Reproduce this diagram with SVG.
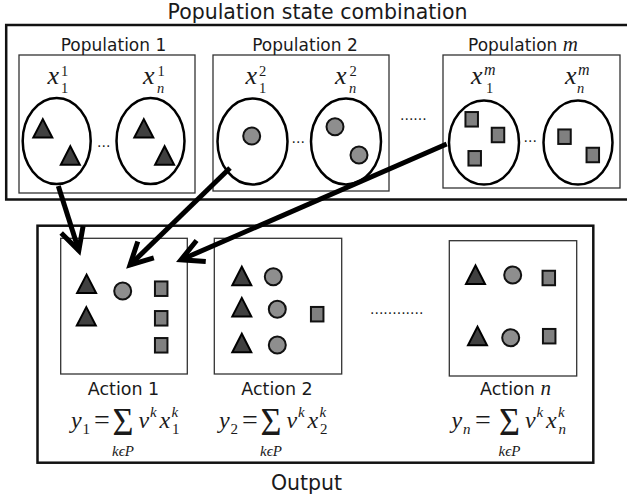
<svg xmlns="http://www.w3.org/2000/svg" xmlns:xlink="http://www.w3.org/1999/xlink" width="627" height="499" viewBox="0 0 627 499">
<style>
.lbl{font-family:"DejaVu Sans","Noto Sans",sans-serif;fill:#1a1a1a}
.m{font-family:"Liberation Serif","DejaVu Serif",serif;font-style:italic;fill:#1a1a1a}
.mu{font-family:"Liberation Serif","DejaVu Serif",serif;fill:#1a1a1a}
.dots{font-family:"DejaVu Sans",sans-serif;font-size:14px;fill:#1a1a1a}
.outer{fill:none;stroke:#111;stroke-width:2.5}
.pop{fill:none;stroke:#333;stroke-width:1.3}
.ell{fill:#fff;stroke:#000;stroke-width:2.5}
.tri{fill:#404040;stroke:#000;stroke-width:2}
.cir{fill:#8e8e8e;stroke:#111;stroke-width:2}
.sq{fill:#808080;stroke:#111;stroke-width:2}
.arrow{fill:none;stroke:#000;stroke-width:5;marker-end:url(#head)}
</style>
<defs>
<marker id="head" markerUnits="userSpaceOnUse" orient="auto" refX="0" refY="0" markerWidth="40" markerHeight="40" viewBox="-30 -20 40 40" overflow="visible">
<path d="M-22,-11.5 L0,0 L-22,11.5" fill="none" stroke="#000" stroke-width="5" stroke-linejoin="miter"/>
</marker>
<polygon id="t" class="tri" points="0,-9.5 -9.5,9 9.5,9"/>
<circle id="c" class="cir" r="8.5"/>
<rect id="s" class="sq" x="-6.25" y="-7.25" width="12.5" height="14.5"/>
</defs>

<g id="population-state-combination">
<rect class="outer" x="6.2" y="25" width="640" height="174.5"/>
<text class="lbl" x="317.5" y="18.5" font-size="20.5" text-anchor="middle">Population state combination</text>
</g>

<g id="population-1">
<rect class="pop" x="19" y="55" width="176" height="138"/>
<text class="lbl" x="113.5" y="50.5" font-size="17" text-anchor="middle">Population 1</text>
<text class="m" x="47.5" y="84" font-size="26">x</text>
<text class="mu" x="61" y="76" font-size="14.5">1</text>
<text class="mu" x="61" y="92.5" font-size="14.5">1</text>
<text class="m" x="143" y="84" font-size="26">x</text>
<text class="mu" x="157.5" y="76" font-size="14.5">1</text>
<text class="m" x="157" y="92.5" font-size="14.5">n</text>
<ellipse class="ell" cx="56.7" cy="141" rx="34" ry="43"/>
<ellipse class="ell" cx="150.5" cy="141" rx="34" ry="43"/>
<use xlink:href="#t" x="42.8" y="128.6"/>
<use xlink:href="#t" x="70.3" y="155.7"/>
<use xlink:href="#t" x="143.8" y="128.6"/>
<use xlink:href="#t" x="164.6" y="155.7"/>
<text class="dots" x="97" y="147">...</text>
</g>

<g id="population-2">
<rect class="pop" x="213" y="55" width="176" height="136"/>
<text class="lbl" x="305" y="50.5" font-size="17" text-anchor="middle">Population 2</text>
<text class="m" x="245.5" y="84" font-size="26">x</text>
<text class="mu" x="259" y="76" font-size="14.5">2</text>
<text class="mu" x="259" y="92.5" font-size="14.5">1</text>
<text class="m" x="335" y="84" font-size="26">x</text>
<text class="mu" x="349.5" y="76" font-size="14.5">2</text>
<text class="m" x="349" y="92.5" font-size="14.5">n</text>
<ellipse class="ell" cx="252.5" cy="141.5" rx="35" ry="43"/>
<ellipse class="ell" cx="346" cy="141.5" rx="35" ry="43"/>
<use xlink:href="#c" x="251.7" y="136"/>
<use xlink:href="#c" x="335" y="126.7"/>
<use xlink:href="#c" x="359" y="155"/>
<text class="dots" x="291.5" y="143">...</text>
</g>

<text class="dots" x="400" y="120">......</text>

<g id="population-m">
<rect class="pop" x="443" y="55" width="177" height="133"/>
<text class="lbl" x="468" y="50.5" font-size="17">Population <tspan class="m" font-size="21">m</tspan></text>
<text class="m" x="471" y="84" font-size="26">x</text>
<text class="m" x="484" y="75" font-size="16">m</text>
<text class="mu" x="486" y="92.5" font-size="14.5">1</text>
<text class="m" x="565" y="84" font-size="26">x</text>
<text class="m" x="578" y="75" font-size="16">m</text>
<text class="m" x="577" y="92.5" font-size="14.5">n</text>
<ellipse class="ell" cx="484" cy="142.5" rx="35" ry="42"/>
<ellipse class="ell" cx="578" cy="142.5" rx="34.5" ry="42"/>
<use xlink:href="#s" x="471.7" y="119.3"/>
<use xlink:href="#s" x="498" y="135"/>
<use xlink:href="#s" x="474.7" y="158.3"/>
<use xlink:href="#s" x="564.5" y="136.7"/>
<use xlink:href="#s" x="592.8" y="155"/>
<text class="dots" x="523.5" y="141.5">...</text>
</g>

<g id="output">
<rect class="outer" x="37.5" y="225.7" width="555.8" height="237" stroke-width="3"/>
<text class="lbl" x="306.5" y="490" font-size="20.5" text-anchor="middle">Output</text>
</g>

<g id="action-1">
<rect class="pop" x="60.7" y="238.3" width="126.6" height="135.7"/>
<use xlink:href="#t" x="86.6" y="284.1"/>
<use xlink:href="#t" x="86.3" y="316.6"/>
<use xlink:href="#c" x="122.7" y="291"/>
<use xlink:href="#s" x="161.2" y="288.7"/>
<use xlink:href="#s" x="161.2" y="318.3"/>
<use xlink:href="#s" x="161.2" y="345.3"/>
<text class="lbl" x="123.5" y="394.5" font-size="17.5" text-anchor="middle">Action 1</text>
<text class="m" x="71" y="428" font-size="24">y</text>
<text class="mu" x="82.5" y="433.5" font-size="15">1</text>
<text class="mu" x="94" y="428.5" font-size="28">=</text>
<text class="mu" x="112.5" y="435" font-size="40" textLength="21" lengthAdjust="spacingAndGlyphs">Σ</text>
<text class="m" x="123" y="456" font-size="15" text-anchor="middle">kϵP</text>
<text class="m" x="138.5" y="428" font-size="24">v</text>
<text class="m" x="150" y="416.5" font-size="15">k</text>
<text class="m" x="159.5" y="428" font-size="24">x</text>
<text class="m" x="171.5" y="416.5" font-size="15">k</text>
<text class="mu" x="172" y="433.5" font-size="15">1</text>
</g>

<g id="action-2">
<rect class="pop" x="214.3" y="238.3" width="127.4" height="135.7"/>
<use xlink:href="#t" x="241.8" y="276.3"/>
<use xlink:href="#t" x="241.8" y="307.4"/>
<use xlink:href="#t" x="241.8" y="343.3"/>
<use xlink:href="#c" x="273.3" y="276.7"/>
<use xlink:href="#c" x="277.3" y="309.3"/>
<use xlink:href="#c" x="277.3" y="345"/>
<use xlink:href="#s" x="317.2" y="314.2"/>
<text class="lbl" x="277" y="394.5" font-size="17.5" text-anchor="middle">Action 2</text>
<text class="m" x="219" y="428" font-size="24">y</text>
<text class="mu" x="230.5" y="433.5" font-size="15">2</text>
<text class="mu" x="242" y="428.5" font-size="28">=</text>
<text class="mu" x="260.5" y="435" font-size="40" textLength="21" lengthAdjust="spacingAndGlyphs">Σ</text>
<text class="m" x="271" y="456" font-size="15" text-anchor="middle">kϵP</text>
<text class="m" x="286.5" y="428" font-size="24">v</text>
<text class="m" x="298" y="416.5" font-size="15">k</text>
<text class="m" x="307.5" y="428" font-size="24">x</text>
<text class="m" x="319.5" y="416.5" font-size="15">k</text>
<text class="mu" x="320" y="433.5" font-size="15">2</text>
</g>

<text class="dots" x="370" y="314">............</text>

<g id="action-n">
<rect class="pop" x="449.3" y="240.7" width="127.4" height="135.3"/>
<use xlink:href="#t" x="475.5" y="275"/>
<use xlink:href="#t" x="477.5" y="336.3"/>
<use xlink:href="#c" x="512.7" y="275"/>
<use xlink:href="#c" x="510.7" y="337.7"/>
<use xlink:href="#s" x="548.8" y="278"/>
<use xlink:href="#s" x="549.2" y="336.2"/>
<text class="lbl" x="480" y="395" font-size="17.5">Action <tspan class="m" font-size="21">n</tspan></text>
<text class="m" x="451.5" y="428" font-size="24">y</text>
<text class="m" x="463" y="433.5" font-size="15">n</text>
<text class="mu" x="475" y="428.5" font-size="28">=</text>
<text class="mu" x="499" y="435" font-size="40" textLength="21" lengthAdjust="spacingAndGlyphs">Σ</text>
<text class="m" x="509.5" y="456" font-size="15" text-anchor="middle">kϵP</text>
<text class="m" x="525" y="428" font-size="24">v</text>
<text class="m" x="536.5" y="416.5" font-size="15">k</text>
<text class="m" x="546" y="428" font-size="24">x</text>
<text class="m" x="558" y="416.5" font-size="15">k</text>
<text class="m" x="558.5" y="433.5" font-size="15">n</text>
</g>

<g id="connectors">
<path class="arrow" d="M58.3,186 L78.8,250.5"/>
<path class="arrow" d="M230,168 L130,265"/>
<path class="arrow" d="M446.7,144 L181,259.8"/>
</g>
</svg>
